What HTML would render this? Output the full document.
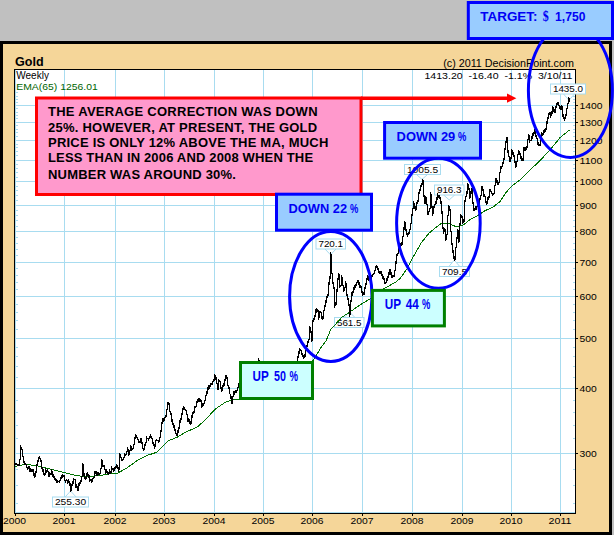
<!DOCTYPE html>
<html><head><meta charset="utf-8"><title>Gold</title>
<style>
html,body{margin:0;padding:0;background:#c0c0c0;}
body{width:614px;height:535px;overflow:hidden;position:relative;font-family:"Liberation Sans",sans-serif;}
svg{position:absolute;left:0;top:0;display:block;}
svg text{font-family:"Liberation Sans",sans-serif;}
.ser{font-family:"Liberation Serif",serif;}
</style></head><body>
<svg width="614" height="535" viewBox="0 0 614 535">
<rect x="0" y="0" width="614" height="535" fill="#c0c0c0"/>
<rect x="0" y="41" width="612" height="494" fill="#000"/>
<rect x="3" y="44" width="606" height="488" fill="#f5d699"/>
<rect x="14.5" y="69.5" width="561" height="444" fill="#fff" stroke="#000" stroke-width="1"/>
<g stroke="#a8dcf0" stroke-width="1" shape-rendering="crispEdges"><line x1="15" x2="575" y1="105.5" y2="105.5"/><line x1="15" x2="575" y1="122.5" y2="122.5"/><line x1="15" x2="575" y1="140.5" y2="140.5"/><line x1="15" x2="575" y1="160.5" y2="160.5"/><line x1="15" x2="575" y1="181.5" y2="181.5"/><line x1="15" x2="575" y1="205.5" y2="205.5"/><line x1="15" x2="575" y1="231.5" y2="231.5"/><line x1="15" x2="575" y1="262.5" y2="262.5"/><line x1="15" x2="575" y1="296.5" y2="296.5"/><line x1="15" x2="575" y1="338.5" y2="338.5"/><line x1="15" x2="575" y1="388.5" y2="388.5"/><line x1="15" x2="575" y1="453.5" y2="453.5"/><line x1="64.5" x2="64.5" y1="70" y2="513"/><line x1="115.5" x2="115.5" y1="70" y2="513"/><line x1="164.5" x2="164.5" y1="70" y2="513"/><line x1="214.5" x2="214.5" y1="70" y2="513"/><line x1="263.5" x2="263.5" y1="70" y2="513"/><line x1="312.5" x2="312.5" y1="70" y2="513"/><line x1="362.5" x2="362.5" y1="70" y2="513"/><line x1="412.5" x2="412.5" y1="70" y2="513"/><line x1="462.5" x2="462.5" y1="70" y2="513"/><line x1="511.5" x2="511.5" y1="70" y2="513"/><line x1="560.5" x2="560.5" y1="70" y2="513"/><line x1="573" x2="575" y1="503.5" y2="503.5"/><line x1="16" x2="18" y1="503.5" y2="503.5"/><line x1="573" x2="575" y1="485.5" y2="485.5"/><line x1="16" x2="18" y1="485.5" y2="485.5"/><line x1="573" x2="575" y1="469.5" y2="469.5"/><line x1="16" x2="18" y1="469.5" y2="469.5"/><line x1="573" x2="575" y1="438.5" y2="438.5"/><line x1="16" x2="18" y1="438.5" y2="438.5"/><line x1="573" x2="575" y1="425.5" y2="425.5"/><line x1="16" x2="18" y1="425.5" y2="425.5"/><line x1="573" x2="575" y1="412.5" y2="412.5"/><line x1="16" x2="18" y1="412.5" y2="412.5"/><line x1="573" x2="575" y1="400.5" y2="400.5"/><line x1="16" x2="18" y1="400.5" y2="400.5"/><line x1="573" x2="575" y1="377.5" y2="377.5"/><line x1="16" x2="18" y1="377.5" y2="377.5"/><line x1="573" x2="575" y1="366.5" y2="366.5"/><line x1="16" x2="18" y1="366.5" y2="366.5"/><line x1="573" x2="575" y1="356.5" y2="356.5"/><line x1="16" x2="18" y1="356.5" y2="356.5"/><line x1="573" x2="575" y1="347.5" y2="347.5"/><line x1="16" x2="18" y1="347.5" y2="347.5"/><line x1="573" x2="575" y1="329.5" y2="329.5"/><line x1="16" x2="18" y1="329.5" y2="329.5"/><line x1="573" x2="575" y1="320.5" y2="320.5"/><line x1="16" x2="18" y1="320.5" y2="320.5"/><line x1="573" x2="575" y1="312.5" y2="312.5"/><line x1="16" x2="18" y1="312.5" y2="312.5"/><line x1="573" x2="575" y1="304.5" y2="304.5"/><line x1="16" x2="18" y1="304.5" y2="304.5"/><line x1="573" x2="575" y1="289.5" y2="289.5"/><line x1="16" x2="18" y1="289.5" y2="289.5"/><line x1="573" x2="575" y1="282.5" y2="282.5"/><line x1="16" x2="18" y1="282.5" y2="282.5"/><line x1="573" x2="575" y1="275.5" y2="275.5"/><line x1="16" x2="18" y1="275.5" y2="275.5"/><line x1="573" x2="575" y1="268.5" y2="268.5"/><line x1="16" x2="18" y1="268.5" y2="268.5"/><line x1="573" x2="575" y1="255.5" y2="255.5"/><line x1="16" x2="18" y1="255.5" y2="255.5"/><line x1="573" x2="575" y1="249.5" y2="249.5"/><line x1="16" x2="18" y1="249.5" y2="249.5"/><line x1="573" x2="575" y1="243.5" y2="243.5"/><line x1="16" x2="18" y1="243.5" y2="243.5"/><line x1="573" x2="575" y1="237.5" y2="237.5"/><line x1="16" x2="18" y1="237.5" y2="237.5"/><line x1="573" x2="575" y1="226.5" y2="226.5"/><line x1="16" x2="18" y1="226.5" y2="226.5"/><line x1="573" x2="575" y1="220.5" y2="220.5"/><line x1="16" x2="18" y1="220.5" y2="220.5"/><line x1="573" x2="575" y1="215.5" y2="215.5"/><line x1="16" x2="18" y1="215.5" y2="215.5"/><line x1="573" x2="575" y1="210.5" y2="210.5"/><line x1="16" x2="18" y1="210.5" y2="210.5"/><line x1="573" x2="575" y1="200.5" y2="200.5"/><line x1="16" x2="18" y1="200.5" y2="200.5"/><line x1="573" x2="575" y1="195.5" y2="195.5"/><line x1="16" x2="18" y1="195.5" y2="195.5"/><line x1="573" x2="575" y1="190.5" y2="190.5"/><line x1="16" x2="18" y1="190.5" y2="190.5"/><line x1="573" x2="575" y1="186.5" y2="186.5"/><line x1="16" x2="18" y1="186.5" y2="186.5"/><line x1="573" x2="575" y1="177.5" y2="177.5"/><line x1="16" x2="18" y1="177.5" y2="177.5"/><line x1="573" x2="575" y1="172.5" y2="172.5"/><line x1="16" x2="18" y1="172.5" y2="172.5"/><line x1="573" x2="575" y1="168.5" y2="168.5"/><line x1="16" x2="18" y1="168.5" y2="168.5"/><line x1="573" x2="575" y1="164.5" y2="164.5"/><line x1="16" x2="18" y1="164.5" y2="164.5"/><line x1="573" x2="575" y1="155.5" y2="155.5"/><line x1="16" x2="18" y1="155.5" y2="155.5"/><line x1="573" x2="575" y1="151.5" y2="151.5"/><line x1="16" x2="18" y1="151.5" y2="151.5"/><line x1="573" x2="575" y1="147.5" y2="147.5"/><line x1="16" x2="18" y1="147.5" y2="147.5"/><line x1="573" x2="575" y1="144.5" y2="144.5"/><line x1="16" x2="18" y1="144.5" y2="144.5"/><line x1="573" x2="575" y1="136.5" y2="136.5"/><line x1="16" x2="18" y1="136.5" y2="136.5"/><line x1="573" x2="575" y1="132.5" y2="132.5"/><line x1="16" x2="18" y1="132.5" y2="132.5"/><line x1="573" x2="575" y1="129.5" y2="129.5"/><line x1="16" x2="18" y1="129.5" y2="129.5"/><line x1="573" x2="575" y1="125.5" y2="125.5"/><line x1="16" x2="18" y1="125.5" y2="125.5"/><line x1="573" x2="575" y1="118.5" y2="118.5"/><line x1="16" x2="18" y1="118.5" y2="118.5"/><line x1="573" x2="575" y1="115.5" y2="115.5"/><line x1="16" x2="18" y1="115.5" y2="115.5"/><line x1="573" x2="575" y1="112.5" y2="112.5"/><line x1="16" x2="18" y1="112.5" y2="112.5"/><line x1="573" x2="575" y1="108.5" y2="108.5"/><line x1="16" x2="18" y1="108.5" y2="108.5"/><line x1="573" x2="575" y1="102.5" y2="102.5"/><line x1="16" x2="18" y1="102.5" y2="102.5"/><line x1="573" x2="575" y1="99.5" y2="99.5"/><line x1="16" x2="18" y1="99.5" y2="99.5"/><line x1="573" x2="575" y1="96.5" y2="96.5"/><line x1="16" x2="18" y1="96.5" y2="96.5"/><line x1="573" x2="575" y1="92.5" y2="92.5"/><line x1="16" x2="18" y1="92.5" y2="92.5"/><line x1="15.5" x2="15.5" y1="70" y2="513"/><line x1="15" x2="575" y1="512.5" y2="512.5"/></g>
<g stroke="#000" stroke-width="1" shape-rendering="crispEdges"><line x1="575" x2="578" y1="105.5" y2="105.5"/><line x1="575" x2="578" y1="122.5" y2="122.5"/><line x1="575" x2="578" y1="140.5" y2="140.5"/><line x1="575" x2="578" y1="160.5" y2="160.5"/><line x1="575" x2="578" y1="181.5" y2="181.5"/><line x1="575" x2="578" y1="205.5" y2="205.5"/><line x1="575" x2="578" y1="231.5" y2="231.5"/><line x1="575" x2="578" y1="262.5" y2="262.5"/><line x1="575" x2="578" y1="296.5" y2="296.5"/><line x1="575" x2="578" y1="338.5" y2="338.5"/><line x1="575" x2="578" y1="388.5" y2="388.5"/><line x1="575" x2="578" y1="453.5" y2="453.5"/><line x1="15.5" x2="15.5" y1="513" y2="516"/><line x1="64.5" x2="64.5" y1="513" y2="516"/><line x1="115.5" x2="115.5" y1="513" y2="516"/><line x1="164.5" x2="164.5" y1="513" y2="516"/><line x1="214.5" x2="214.5" y1="513" y2="516"/><line x1="263.5" x2="263.5" y1="513" y2="516"/><line x1="312.5" x2="312.5" y1="513" y2="516"/><line x1="362.5" x2="362.5" y1="513" y2="516"/><line x1="412.5" x2="412.5" y1="513" y2="516"/><line x1="462.5" x2="462.5" y1="513" y2="516"/><line x1="511.5" x2="511.5" y1="513" y2="516"/><line x1="560.5" x2="560.5" y1="513" y2="516"/></g>
<g font-size="9.6" fill="#000"><text x="579.5" y="108.8" textLength="23" lengthAdjust="spacingAndGlyphs">1400</text><text x="579.5" y="125.8" textLength="23" lengthAdjust="spacingAndGlyphs">1300</text><text x="579.5" y="143.8" textLength="23" lengthAdjust="spacingAndGlyphs">1200</text><text x="579.5" y="163.8" textLength="23" lengthAdjust="spacingAndGlyphs">1100</text><text x="579.5" y="184.8" textLength="23" lengthAdjust="spacingAndGlyphs">1000</text><text x="579.5" y="208.8" textLength="17.2" lengthAdjust="spacingAndGlyphs">900</text><text x="579.5" y="234.8" textLength="17.2" lengthAdjust="spacingAndGlyphs">800</text><text x="579.5" y="265.8" textLength="17.2" lengthAdjust="spacingAndGlyphs">700</text><text x="579.5" y="299.8" textLength="17.2" lengthAdjust="spacingAndGlyphs">600</text><text x="579.5" y="341.8" textLength="17.2" lengthAdjust="spacingAndGlyphs">500</text><text x="579.5" y="391.8" textLength="17.2" lengthAdjust="spacingAndGlyphs">400</text><text x="579.5" y="456.8" textLength="17.2" lengthAdjust="spacingAndGlyphs">300</text> <text x="3.0" y="524" textLength="23" lengthAdjust="spacingAndGlyphs">2000</text><text x="52.5" y="524" textLength="23" lengthAdjust="spacingAndGlyphs">2001</text><text x="103.5" y="524" textLength="23" lengthAdjust="spacingAndGlyphs">2002</text><text x="152.5" y="524" textLength="23" lengthAdjust="spacingAndGlyphs">2003</text><text x="202.5" y="524" textLength="23" lengthAdjust="spacingAndGlyphs">2004</text><text x="251.5" y="524" textLength="23" lengthAdjust="spacingAndGlyphs">2005</text><text x="300.5" y="524" textLength="23" lengthAdjust="spacingAndGlyphs">2006</text><text x="350.5" y="524" textLength="23" lengthAdjust="spacingAndGlyphs">2007</text><text x="400.5" y="524" textLength="23" lengthAdjust="spacingAndGlyphs">2008</text><text x="450.5" y="524" textLength="23" lengthAdjust="spacingAndGlyphs">2009</text><text x="499.5" y="524" textLength="23" lengthAdjust="spacingAndGlyphs">2010</text><text x="548.5" y="524" textLength="23" lengthAdjust="spacingAndGlyphs">2011</text></g>
<text x="15" y="65.9" font-size="13" font-weight="bold" fill="#000" textLength="28.6" lengthAdjust="spacingAndGlyphs">Gold</text>
<text x="16.3" y="79.2" font-size="10" fill="#000">Weekly</text>
<text x="16.3" y="90.3" font-size="9.8" fill="#006400" textLength="81.4" lengthAdjust="spacingAndGlyphs">EMA(65) 1256.01</text>
<text x="443.2" y="66.6" font-size="10.8" fill="#000" textLength="130.7" lengthAdjust="spacingAndGlyphs">(c) 2011 DecisionPoint.com</text>
<text x="424.4" y="79" font-size="9.8" fill="#000" textLength="148.1" lengthAdjust="spacingAndGlyphs" xml:space="preserve">1413.20  -16.40  -1.1%  3/10/11</text>
<path d="M65.1 497.0 L70.6 491.0 L76.1 497.0" fill="#fff" stroke="#a8dcf0" stroke-width="1"/><rect x="52.5" y="497.0" width="36.0" height="10.0" fill="#fff" stroke="#a8dcf0" stroke-width="1"/><text x="54.9" y="505.3" font-size="9.8" textLength="31.2" lengthAdjust="spacingAndGlyphs">255.30</text><path d="M325.0 249.0 L330.5 254.8 L336.0 249.0" fill="#fff" stroke="#a8dcf0" stroke-width="1"/><rect x="316.0" y="239.0" width="29.5" height="10.0" fill="#fff" stroke="#a8dcf0" stroke-width="1"/><text x="318.4" y="247.3" font-size="9.8" textLength="24.7" lengthAdjust="spacingAndGlyphs">720.1</text><path d="M344.0 317.5 L349.5 312.0 L355.0 317.5" fill="#fff" stroke="#a8dcf0" stroke-width="1"/><rect x="334.5" y="317.5" width="29.5" height="10.0" fill="#fff" stroke="#a8dcf0" stroke-width="1"/><text x="336.9" y="325.8" font-size="9.8" textLength="24.7" lengthAdjust="spacingAndGlyphs">561.5</text><path d="M416.5 174.5 L422.0 179.4 L427.5 174.5" fill="#fff" stroke="#a8dcf0" stroke-width="1"/><rect x="404.5" y="164.5" width="36.0" height="10.0" fill="#fff" stroke="#a8dcf0" stroke-width="1"/><text x="406.9" y="172.8" font-size="9.8" textLength="31.2" lengthAdjust="spacingAndGlyphs">1005.5</text><path d="M443.7 195.0 L449.2 199.9 L454.7 195.0" fill="#fff" stroke="#a8dcf0" stroke-width="1"/><rect x="434.5" y="185.0" width="29.5" height="10.0" fill="#fff" stroke="#a8dcf0" stroke-width="1"/><text x="436.9" y="193.3" font-size="9.8" textLength="24.7" lengthAdjust="spacingAndGlyphs">916.3</text><path d="M448.8 266.5 L454.3 260.2 L459.8 266.5" fill="#fff" stroke="#a8dcf0" stroke-width="1"/><rect x="439.5" y="266.5" width="30.0" height="10.0" fill="#fff" stroke="#a8dcf0" stroke-width="1"/><text x="441.9" y="274.8" font-size="9.8" textLength="25.2" lengthAdjust="spacingAndGlyphs">709.5</text><path d="M563.5 94.0 L569.0 100.2 L574.5 94.0" fill="#fff" stroke="#a8dcf0" stroke-width="1"/><rect x="550.5" y="84.0" width="35.0" height="10.0" fill="#fff" stroke="#a8dcf0" stroke-width="1"/><text x="552.9" y="92.3" font-size="9.8" textLength="30.2" lengthAdjust="spacingAndGlyphs">1435.0</text>
<path d="M14.6 466.6 L25.1 464.3 L38.2 466.0 L51.3 469.3 L64.4 472.5 L77.4 475.8 L85.3 476.5 L92.0 476.1 L99.8 475.7 L108.2 474.0 L117.4 473.2 L126.7 468.1 L138.5 459.7 L146.9 455.5 L157.0 452.2 L160.0 449.2 L168.4 440.8 L176.8 437.4 L186.9 431.5 L197.0 427.3 L205.4 419.7 L215.5 408.8 L225.6 402.1 L232.3 400.0 L239.1 399.0 L250.0 394.0 L262.0 388.0 L275.0 384.0 L290.0 378.0 L302.0 370.0 L313.4 360.0 L320.7 348.0 L326.0 341.0 L330.8 329.5 L342.1 317.0 L349.5 312.3 L360.0 305.0 L371.0 298.3 L385.0 288.0 L395.3 282.4 L400.0 278.6 L404.0 273.0 L408.1 267.2 L413.7 256.0 L421.2 242.9 L428.6 233.6 L435.2 227.9 L440.8 223.8 L449.2 223.6 L456.7 227.0 L463.2 225.1 L469.8 219.7 L477.5 215.8 L485.0 210.6 L492.4 207.6 L499.9 201.6 L505.9 192.6 L511.9 185.9 L520.8 179.2 L529.8 170.0 L538.9 161.8 L547.9 152.1 L553.8 145.3 L559.8 137.9 L564.3 134.1 L569.5 130.1" fill="none" stroke="#007000" stroke-width="1" shape-rendering="crispEdges"/>
<path d="M15.5 463V465M16.5 463V465M17.5 464V466M18.5 464V466M19.5 459V466M20.5 445V460M21.5 447V450M22.5 449V457M23.5 456V463M24.5 461V465M25.5 463V465M26.5 464V468M27.5 467V470M28.5 466V469M29.5 466V472M30.5 468V472M31.5 469V472M32.5 469V472M33.5 469V476M34.5 473V478M35.5 471V477M36.5 464V473M37.5 460V466M38.5 457V462M39.5 456V459M40.5 458V462M41.5 460V469M42.5 467V472M43.5 469V475M44.5 473V476M45.5 468V475M46.5 470V473M47.5 469V472M48.5 471V477M49.5 472V477M50.5 473V475M51.5 469V475M52.5 471V477M53.5 474V478M54.5 476V480M55.5 478V481M56.5 479V483M57.5 480V483M58.5 481V482M59.5 480V483M60.5 477V481M61.5 475V479M62.5 474V478M63.5 475V477M64.5 475V481M65.5 480V483M66.5 479V481M67.5 480V484M68.5 479V483M69.5 481V486M70.5 483V492M71.5 484V491M72.5 481V486M73.5 478V484M74.5 479V480M75.5 479V488M76.5 484V488M77.5 486V491M78.5 483V491M79.5 482V486M80.5 480V484M81.5 476V482M82.5 463V477M83.5 464V476M84.5 473V479M85.5 477V480M86.5 473V479M87.5 472V476M88.5 474V478M89.5 475V482M90.5 479V481M91.5 479V483M92.5 478V482M93.5 477V479M94.5 471V478M95.5 471V474M96.5 471V476M97.5 472V476M98.5 472V475M99.5 473V475M100.5 468V474M101.5 459V469M102.5 460V467M103.5 465V467M104.5 465V470M105.5 469V474M106.5 469V473M107.5 471V474M108.5 472V475M109.5 469V474M110.5 471V474M111.5 466V473M112.5 468V470M113.5 468V472M114.5 467V471M115.5 466V469M116.5 464V468M117.5 465V469M118.5 467V472M119.5 453V470M120.5 454V458M121.5 457V461M122.5 459V461M123.5 457V460M124.5 453V458M125.5 454V456M126.5 451V455M127.5 447V452M128.5 449V456M129.5 450V455M130.5 445V451M131.5 446V451M132.5 448V450M133.5 444V449M134.5 437V445M135.5 434V439M136.5 435V438M137.5 437V440M138.5 439V443M139.5 441V443M140.5 438V443M141.5 438V444M142.5 442V449M143.5 448V451M144.5 444V450M145.5 442V446M146.5 436V443M147.5 438V439M148.5 438V441M149.5 436V439M150.5 434V438M151.5 436V439M152.5 438V444M153.5 442V446M154.5 444V449M155.5 440V447M156.5 439V441M157.5 440V441M158.5 440V443M159.5 437V442M160.5 430V438M161.5 422V432M162.5 418V424M163.5 418V422M164.5 417V421M165.5 415V418M166.5 409V417M167.5 402V410M168.5 402V405M169.5 403V412M170.5 411V415M171.5 413V422M172.5 419V425M173.5 423V428M174.5 425V431M175.5 429V434M176.5 433V436M177.5 430V436M178.5 427V433M179.5 420V429M180.5 418V423M181.5 413V420M182.5 408V415M183.5 406V410M184.5 407V410M185.5 409V411M186.5 410V415M187.5 414V422M188.5 418V422M189.5 419V424M190.5 421V425M191.5 415V424M192.5 412V418M193.5 411V414M194.5 406V413M195.5 406V408M196.5 401V407M197.5 399V403M198.5 398V402M199.5 398V402M200.5 399V402M201.5 400V408M202.5 403V407M203.5 403V406M204.5 400V404M205.5 395V401M206.5 391V396M207.5 387V394M208.5 385V390M209.5 385V389M210.5 383V387M211.5 383V385M212.5 381V385M213.5 379V382M214.5 374V381M215.5 375V380M216.5 377V384M217.5 383V390M218.5 379V390M219.5 380V382M220.5 381V389M221.5 387V392M222.5 385V391M223.5 383V387M224.5 379V386M225.5 375V381M226.5 375V379M227.5 377V386M228.5 385V389M229.5 387V394M230.5 394V399M231.5 396V404M232.5 396V404M233.5 391V397M234.5 391V395M235.5 390V393M236.5 390V393M237.5 387V391M238.5 383V388M239.5 384V388M240.5 386V388M241.5 387V389M242.5 387V391M243.5 389V391M244.5 384V391M245.5 385V388M246.5 384V387M247.5 381V385M248.5 378V382M249.5 378V382M250.5 377V380M251.5 376V379M252.5 374V378M253.5 370V375M254.5 371V374M255.5 365V374M256.5 362V367M257.5 362V364M258.5 358V363M259.5 360V363M260.5 362V365M261.5 363V373M262.5 371V375M263.5 374V379M264.5 377V380M265.5 379V383M266.5 379V383M267.5 381V386M268.5 382V384M269.5 380V383M270.5 377V381M271.5 377V380M272.5 378V382M273.5 378V382M274.5 379V384M275.5 381V383M276.5 379V383M277.5 378V382M278.5 375V380M279.5 375V378M280.5 374V377M281.5 373V377M282.5 370V376M283.5 371V374M284.5 373V378M285.5 376V378M286.5 376V381M287.5 378V381M288.5 373V381M289.5 373V375M290.5 369V374M291.5 368V371M292.5 364V370M293.5 363V366M294.5 363V365M295.5 363V365M296.5 362V366M297.5 356V364M298.5 351V358M299.5 348V354M300.5 349V351M301.5 350V355M302.5 353V357M303.5 355V359M304.5 354V358M305.5 350V357M306.5 345V351M307.5 341V347M308.5 339V343M309.5 326V340M310.5 327V333M311.5 331V342M312.5 320V341M313.5 318V322M314.5 315V320M315.5 309V317M316.5 308V313M317.5 309V312M318.5 310V320M319.5 311V318M320.5 311V313M321.5 312V319M322.5 316V320M323.5 310V319M324.5 305V311M325.5 300V307M326.5 296V303M327.5 294V298M328.5 282V296M329.5 276V285M330.5 252V279M331.5 254V274M332.5 273V284M333.5 282V289M334.5 287V308M335.5 302V306M336.5 289V305M337.5 278V292M338.5 273V280M339.5 274V288M340.5 285V287M341.5 275V286M342.5 277V286M343.5 285V292M344.5 287V291M345.5 281V288M346.5 283V296M347.5 294V300M348.5 298V306M349.5 304V317M350.5 300V315M351.5 292V302M352.5 291V296M353.5 287V293M354.5 285V290M355.5 284V288M356.5 282V286M357.5 280V283M358.5 280V285M359.5 282V288M360.5 285V288M361.5 286V293M362.5 291V296M363.5 292V295M364.5 287V295M365.5 283V289M366.5 278V285M367.5 275V280M368.5 276V281M369.5 277V278M370.5 277V279M371.5 275V279M372.5 274V277M373.5 273V275M374.5 270V274M375.5 266V271M376.5 265V268M377.5 266V270M378.5 268V273M379.5 271V274M380.5 271V274M381.5 271V276M382.5 274V279M383.5 276V280M384.5 278V284M385.5 282V284M386.5 278V283M387.5 276V281M388.5 272V278M389.5 269V275M390.5 269V275M391.5 272V278M392.5 275V278M393.5 275V277M394.5 270V277M395.5 261V271M396.5 254V264M397.5 253V256M398.5 245V254M399.5 246V248M400.5 243V248M401.5 242V246M402.5 236V245M403.5 227V237M404.5 221V230M405.5 222V231M406.5 229V235M407.5 233V237M408.5 232V235M409.5 229V234M410.5 223V230M411.5 214V224M412.5 208V216M413.5 201V209M414.5 203V209M415.5 206V211M416.5 202V210M417.5 200V204M418.5 192V202M419.5 189V194M420.5 185V191M421.5 183V187M422.5 179V185M423.5 180V197M424.5 195V204M425.5 196V204M426.5 197V205M427.5 204V215M428.5 211V215M429.5 208V212M430.5 192V209M431.5 194V208M432.5 206V216M433.5 206V214M434.5 204V208M435.5 201V205M436.5 197V204M437.5 193V200M438.5 195V198M439.5 195V199M440.5 197V204M441.5 201V214M442.5 211V229M443.5 227V234M444.5 228V232M445.5 229V241M446.5 234V240M447.5 215V235M448.5 205V216M449.5 206V211M450.5 209V232M451.5 231V245M452.5 243V253M453.5 250V259M454.5 256V261M455.5 247V260M456.5 237V248M457.5 229V239M458.5 230V243M459.5 223V242M460.5 214V225M461.5 215V218M462.5 216V224M463.5 219V223M464.5 200V222M465.5 196V202M466.5 191V197M467.5 183V194M468.5 184V190M469.5 188V199M470.5 191V198M471.5 188V194M472.5 188V204M473.5 202V211M474.5 208V211M475.5 206V210M476.5 206V210M477.5 203V207M478.5 203V207M479.5 198V204M480.5 195V200M481.5 186V196M482.5 186V191M483.5 189V197M484.5 194V197M485.5 196V203M486.5 201V205M487.5 197V204M488.5 196V200M489.5 189V198M490.5 189V192M491.5 191V194M492.5 193V196M493.5 193V195M494.5 185V194M495.5 178V186M496.5 178V183M497.5 180V185M498.5 182V185M499.5 172V183M500.5 166V173M501.5 166V169M502.5 162V167M503.5 158V164M504.5 148V160M505.5 141V150M506.5 137V143M507.5 137V153M508.5 150V157M509.5 156V162M510.5 157V162M511.5 149V159M512.5 150V155M513.5 152V157M514.5 155V163M515.5 161V168M516.5 161V167M517.5 154V162M518.5 150V155M519.5 151V155M520.5 153V159M521.5 156V161M522.5 158V161M523.5 147V161M524.5 147V151M525.5 147V151M526.5 146V150M527.5 139V148M528.5 134V140M529.5 135V143M530.5 140V141M531.5 136V141M532.5 133V139M533.5 132V136M534.5 129V134M535.5 131V137M536.5 135V139M537.5 138V145M538.5 142V146M539.5 144V146M540.5 135V146M541.5 132V137M542.5 133V136M543.5 130V135M544.5 129V133M545.5 128V132M546.5 121V130M547.5 117V124M548.5 113V119M549.5 112V115M550.5 112V118M551.5 111V116M552.5 106V114M553.5 107V112M554.5 109V113M555.5 106V113M556.5 103V108M557.5 102V105M558.5 102V106M559.5 105V109M560.5 106V110M561.5 105V110M562.5 106V117M563.5 114V119M564.5 117V121M565.5 114V119M566.5 108V116M567.5 103V109M568.5 97V104M569.5 98V102" fill="none" stroke="#000" stroke-width="1" shape-rendering="crispEdges"/>
<!-- annotations -->
<g fill="none" stroke="#0000ff" stroke-width="3">
<ellipse cx="330.8" cy="296.5" rx="41.2" ry="64.9"/>
<ellipse cx="438.4" cy="223.3" rx="41.8" ry="65"/>
<ellipse cx="570.4" cy="90.4" rx="42" ry="67"/>
</g>
<rect x="36.5" y="98" width="324.5" height="96.5" fill="#ff99cc" stroke="#ff0000" stroke-width="3"/>
<line x1="361" x2="508" y1="98.2" y2="98.2" stroke="#ff0000" stroke-width="3.4"/>
<path d="M507 93.6 L516.4 98.2 L507 102.8 Z" fill="#ff0000"/>
<g font-size="13" font-weight="bold" fill="#000" letter-spacing="0.23">
<text x="48" y="116.3" textLength="269.8">THE AVERAGE CORRECTION WAS DOWN</text>
<text x="48" y="131.9" textLength="269.4">25%. HOWEVER, AT PRESENT, THE GOLD</text>
<text x="48" y="147.3" textLength="280.6">PRICE IS ONLY 12% ABOVE THE MA, MUCH</text>
<text x="48" y="162.3" textLength="265.3">LESS THAN IN 2006 AND 2008 WHEN THE</text>
<text x="48" y="178.6" textLength="188.1">NUMBER WAS AROUND 30%.</text>
</g>
<rect x="468.3" y="2.5" width="144.2" height="36" fill="#99ccff" stroke="#0000ff" stroke-width="3"/>
<rect x="384.6" y="122.5" width="95.9" height="35.7" fill="#99ccff" stroke="#0000ff" stroke-width="3"/>
<rect x="276.5" y="194.2" width="95" height="36" fill="#99ccff" stroke="#0000ff" stroke-width="3"/>
<rect x="240.5" y="362.5" width="72" height="36" fill="#ccffff" stroke="#008000" stroke-width="3"/>
<rect x="372.4" y="290.4" width="72" height="35.5" fill="#ccffff" stroke="#008000" stroke-width="3"/>
<g font-weight="bold" fill="#0000f5" lengthAdjust="spacingAndGlyphs">
<text x="480.3" y="20.7" font-size="13.4" textLength="57.2" lengthAdjust="spacingAndGlyphs">TARGET:</text>
<text x="542.8" y="20.7" font-size="14" class="ser" textLength="6" lengthAdjust="spacingAndGlyphs">$</text>
<text x="555.1" y="20.7" font-size="13.4" textLength="30.3" lengthAdjust="spacingAndGlyphs">1,750</text>
<text x="396.6" y="140.6" font-size="13" textLength="58.7" lengthAdjust="spacingAndGlyphs">DOWN 29</text>
<text x="458.1" y="140.6" font-size="13" textLength="8.3" lengthAdjust="spacingAndGlyphs">%</text>
<text x="288.6" y="212.8" font-size="13" textLength="58.5" lengthAdjust="spacingAndGlyphs">DOWN 22</text>
<text x="350.1" y="212.8" font-size="13" textLength="8.3" lengthAdjust="spacingAndGlyphs">%</text>
<text x="252.6" y="381" font-size="14" textLength="16.2" lengthAdjust="spacingAndGlyphs">UP</text>
<text x="274.1" y="381" font-size="14" textLength="11.9" lengthAdjust="spacingAndGlyphs">50</text>
<text x="289.5" y="381" font-size="14" textLength="8.5" lengthAdjust="spacingAndGlyphs">%</text>
<text x="384.7" y="308.8" font-size="14" textLength="16.3" lengthAdjust="spacingAndGlyphs">UP</text>
<text x="405.8" y="308.8" font-size="14" textLength="13.1" lengthAdjust="spacingAndGlyphs">44</text>
<text x="422" y="308.8" font-size="14" textLength="8.3" lengthAdjust="spacingAndGlyphs">%</text>
</g>
</svg>
</body></html>
